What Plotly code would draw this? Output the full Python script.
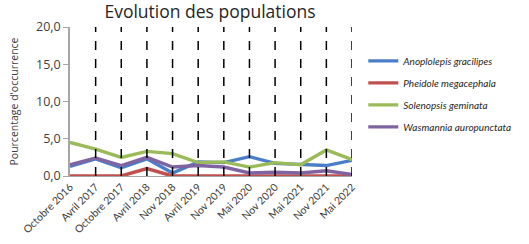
import plotly.graph_objects as go

categories = ["Octobre 2016", "Avril 2017", "Octobre 2017", "Avril 2018", "Nov 2018",
              "Avril 2019", "Nov 2019", "Mai 2020", "Nov 2020", "Mai 2021", "Nov 2021", "Mai 2022"]
anoplolepis = [1.3, 2.3, 1.1, 2.3, 0.4, 1.9, 1.8, 2.6, 1.7, 1.6, 1.4, 2.1]
pheidole = [0.0, 0.0, 0.0, 1.0, 0.0, 0.0, 0.0, 0.0, 0.0, 0.0, 0.0, 0.0]
solenopsis = [4.5, 3.6, 2.5, 3.3, 3.0, 1.8, 1.9, 1.2, 1.8, 1.5, 3.5, 2.2]
wasmannia = [1.5, 2.4, 1.4, 2.5, 1.2, 1.4, 1.2, 0.4, 0.5, 0.4, 0.7, 0.2]
y_ticks = [0, 5, 10, 15, 20]
y_tick_labels = ["0,0", "5,0", "10,0", "15,0", "20,0"]

series = [
    ("Anoplolepis gracilipes", anoplolepis, "#4A7EC8"),
    ("Pheidole megacephala", pheidole, "#C0504D"),
    ("Solenopsis geminata", solenopsis, "#9BBB59"),
    ("Wasmannia auropunctata", wasmannia, "#8064A2"),
]

fig = go.Figure()
for name, vals, color in series:
    fig.add_trace(go.Scatter(x=categories, y=vals, mode="lines", name=name,
                             legendgroup=name,
                             line=dict(color=color, width=3.4)))

for c in categories[1:]:
    fig.add_shape(type="line", xref="x", yref="y", x0=c, x1=c, y0=0, y1=20,
                  line=dict(color="black", width=1.5, dash="dash"), layer="above")

fig.update_layout(
    width=529, height=244,
    margin=dict(l=70, r=177, t=27, b=68, autoexpand=False),
    paper_bgcolor="white", plot_bgcolor="white",
    font=dict(family="Open Sans, sans-serif", color="#404040"),
    title=dict(text="Evolution des populations", x=0.397, xanchor="center",
               xref="container", yref="container",
               y=0.95, yanchor="middle",
               font=dict(size=17.5, color="#262626")),
    showlegend=True,
    legend=dict(x=1.04, xanchor="left", y=0.87, yanchor="top",
                font=dict(family="Lato, sans-serif", size=10, style="italic",
                          color="#262626"),
                traceorder="grouped", tracegroupgap=3,
                itemwidth=30, bgcolor="rgba(0,0,0,0)"),
    xaxis=dict(range=[0, 11], showgrid=False, tickangle=-45,
               tickfont=dict(family="Lato, sans-serif", size=10.5, color="#404040"),
               showline=True, linecolor="#A6A6A6", linewidth=1,
               ticks="", zeroline=False),
    yaxis=dict(range=[0, 20], tickvals=y_ticks, ticktext=y_tick_labels,
               showgrid=False, zeroline=False,
               showline=True, linecolor="#A6A6A6", linewidth=1.5,
               ticks="outside", ticklen=5, tickcolor="#A6A6A6",
               tickfont=dict(size=12.5, color="#404040"),
               title=dict(text="Pourcentage d'occurrence", standoff=15,
                          font=dict(size=10.5, color="#404040"))),
)

fig.write_html("out.html",
               config={"displayModeBar": False},
               post_script="document.body.style.margin='0px';")
